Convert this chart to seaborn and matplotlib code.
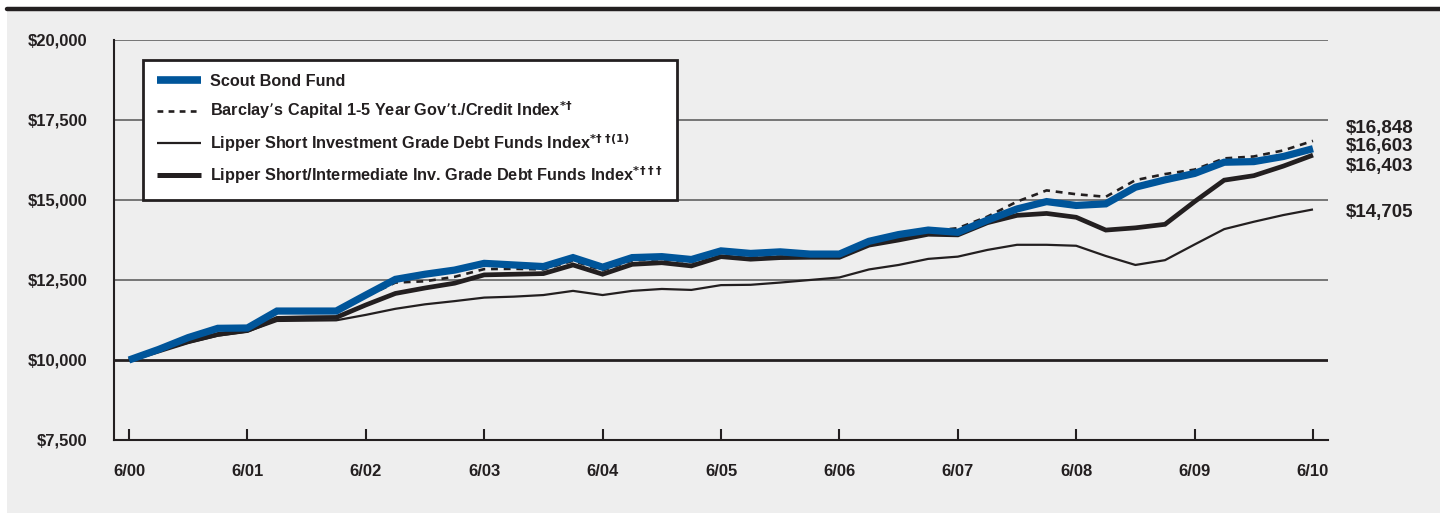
import numpy as np
import pandas as pd
import matplotlib
matplotlib.use("Agg")
import matplotlib.pyplot as plt
from matplotlib.patches import Rectangle
from matplotlib.lines import Line2D
import seaborn as sns

# ---------------- data ----------------
quarters = ["6/00", "9/00", "12/00", "3/01", "6/01", "9/01", "12/01", "3/02", "6/02", "9/02",
            "12/02", "3/03", "6/03", "9/03", "12/03", "3/04", "6/04", "9/04", "12/04", "3/05",
            "6/05", "9/05", "12/05", "3/06", "6/06", "9/06", "12/06", "3/07", "6/07", "9/07",
            "12/07", "3/08", "6/08", "9/08", "12/08", "3/09", "6/09", "9/09", "12/09", "3/10", "6/10"]

scout = [10000, 10330, 10700, 10990, 11000, 11530, 11530, 11530, 12030, 12520,
         12680, 12810, 13020, 12970, 12920, 13200, 12900, 13200, 13230, 13140,
         13410, 13330, 13380, 13310, 13310, 13710, 13920, 14060, 13990, 14370,
         14720, 14950, 14830, 14880, 15400, 15630, 15830, 16180, 16200, 16360, 16603]

barclays = [10000, 10300, 10680, 10970, 10980, 11500, 11500, 11500, 11980, 12420,
            12460, 12600, 12840, 12850, 12830, 13100, 12800, 13110, 13150, 13060,
            13340, 13260, 13310, 13250, 13250, 13650, 13860, 14020, 14120, 14480,
            14950, 15300, 15180, 15100, 15620, 15810, 15950, 16300, 16360, 16550, 16848]

lipper_short = [10000, 10280, 10540, 10760, 10890, 11220, 11230, 11240, 11410, 11600,
                11740, 11840, 11950, 11980, 12030, 12160, 12030, 12160, 12220, 12190,
                12340, 12350, 12420, 12500, 12580, 12830, 12970, 13160, 13230, 13440,
                13600, 13600, 13570, 13250, 12970, 13120, 13610, 14090, 14320, 14530, 14705]

lipper_si = [10000, 10280, 10570, 10800, 10920, 11300, 11320, 11330, 11720, 12080,
             12250, 12400, 12660, 12680, 12700, 12970, 12680, 12990, 13040, 12940,
             13230, 13150, 13200, 13210, 13210, 13590, 13750, 13930, 13910, 14290,
             14520, 14580, 14460, 14060, 14130, 14240, 14950, 15620, 15760, 16060, 16403]

year_ticks = ["6/00", "6/01", "6/02", "6/03", "6/04", "6/05", "6/06", "6/07", "6/08", "6/09", "6/10"]
y_ticks = [7500, 10000, 12500, 15000, 17500, 20000]

labels = ["Scout Bond Fund",
          "Barclay\u2019s Capital 1-5 Year Gov\u2019t./Credit Index",
          "Lipper Short Investment Grade Debt Funds Index",
          "Lipper Short/Intermediate Inv. Grade Debt Funds Index"]
label_sups = [None, r"$^{*\!\dagger}$", r"$^{*\!\dagger\!\dagger\!(1)}$", r"$^{*\!\dagger\!\dagger\!\dagger}$"]

# ---------------- style ----------------
sns.set_style("white")
FONT = ["Liberation Sans Narrow", "Liberation Sans", "DejaVu Sans"]
plt.rcParams["font.family"] = FONT
plt.rcParams["font.weight"] = "bold"
plt.rcParams["mathtext.fontset"] = "dejavusans"
plt.rcParams["mathtext.default"] = "bf"

BLUE = "#00559a"
DARK = "#231f20"
BG = "#eeeeee"

fig = plt.figure(figsize=(14.4, 5.13), dpi=100)
fig.patch.set_facecolor("white")
fig.add_artist(Rectangle((7 / 1440, 0), 1 - 7 / 1440, 1 - 11 / 513,
                         transform=fig.transFigure, facecolor=BG, edgecolor="none", zorder=0))
fig.add_artist(Line2D([7 / 1440, 1], [1 - 9 / 513, 1 - 9 / 513], transform=fig.transFigure,
                      color=DARK, lw=3.2, zorder=1))

ax = fig.add_axes([114 / 1440, 1 - 440 / 513, (1328 - 114) / 1440, 400 / 513])
ax.set_facecolor("none")

n = len(quarters)
idx = np.arange(n)
df = pd.DataFrame({"q": idx, "scout": scout, "barclays": barclays,
                   "short": lipper_short, "si": lipper_si})

# grid lines
for v in y_ticks[2:]:
    ax.axhline(v, color="#555555", lw=1.1, zorder=1)
ax.axhline(10000, color=DARK, lw=2.0, zorder=1)

sns.lineplot(data=df, x="q", y="short", ax=ax, color=DARK, lw=1.6, zorder=3,
             solid_capstyle="butt")
sns.lineplot(data=df, x="q", y="si", ax=ax, color=DARK, lw=3.4, zorder=4,
             solid_capstyle="butt", solid_joinstyle="miter")
sns.lineplot(data=df, x="q", y="barclays", ax=ax, color=DARK, lw=1.9, zorder=5,
             linestyle=(0, (2.6, 2.2)), dash_capstyle="butt")
sns.lineplot(data=df, x="q", y="scout", ax=ax, color=BLUE, lw=5.2, zorder=6,
             solid_capstyle="butt", solid_joinstyle="miter")

ax.set_xlim(-0.507, n - 1 + 0.507)
ax.set_ylim(7500, 20000)
ax.set_xlabel("")
ax.set_ylabel("")

tick_pos = [quarters.index(t) for t in year_ticks]
ax.set_xticks(tick_pos)
ax.set_xticklabels(year_ticks)
ax.set_yticks(y_ticks)
ax.set_yticklabels(["${:,}".format(v) for v in y_ticks])
ax.tick_params(axis="x", direction="in", length=8, width=1.5, color=DARK, pad=17,
               labelsize=12, labelcolor=DARK, bottom=True)
ax.tick_params(axis="y", length=0, pad=19, labelsize=12, labelcolor=DARK, left=False)
for lab in ax.get_xticklabels() + ax.get_yticklabels():
    lab.set_fontweight("bold")

for s in ["top", "right"]:
    ax.spines[s].set_visible(False)
for s in ["left", "bottom"]:
    ax.spines[s].set_color(DARK)
    ax.spines[s].set_linewidth(1.5)

# end labels
end_vals = [barclays[-1], scout[-1], lipper_si[-1], lipper_short[-1]]
end_y_px = [129, 147, 167, 212]
for v, ypx in zip(end_vals, end_y_px):
    fig.text(1346 / 1440, 1 - ypx / 513, "${:,}".format(v), ha="left", va="center",
             fontsize=13.5, fontweight="bold", color=DARK)

# legend
handles = [Line2D([], [], color=BLUE, lw=5.5, solid_capstyle="butt"),
           Line2D([], [], color=DARK, lw=1.9, linestyle=(0, (2.2, 2.0)), dash_capstyle="butt"),
           Line2D([], [], color=DARK, lw=1.6, solid_capstyle="butt"),
           Line2D([], [], color=DARK, lw=3.6, solid_capstyle="butt")]
leg_labels = [l if s is None else l + s for l, s in zip(labels, label_sups)]
leg = fig.legend(handles, leg_labels, loc="upper left",
                 bbox_to_anchor=(143 / 1440, 1 - 60 / 513), bbox_transform=fig.transFigure,
                 frameon=True, fancybox=False, framealpha=1, facecolor="white",
                 edgecolor=DARK, prop={"family": FONT, "weight": "bold", "size": 11.7},
                 handlelength=2.7, handletextpad=0.55, labelspacing=0.66, borderpad=0.85,
                 borderaxespad=0)
leg.get_frame().set_linewidth(2)
for t in leg.get_texts():
    t.set_color(DARK)

fig.savefig("out.png", dpi=100, facecolor=fig.get_facecolor())
